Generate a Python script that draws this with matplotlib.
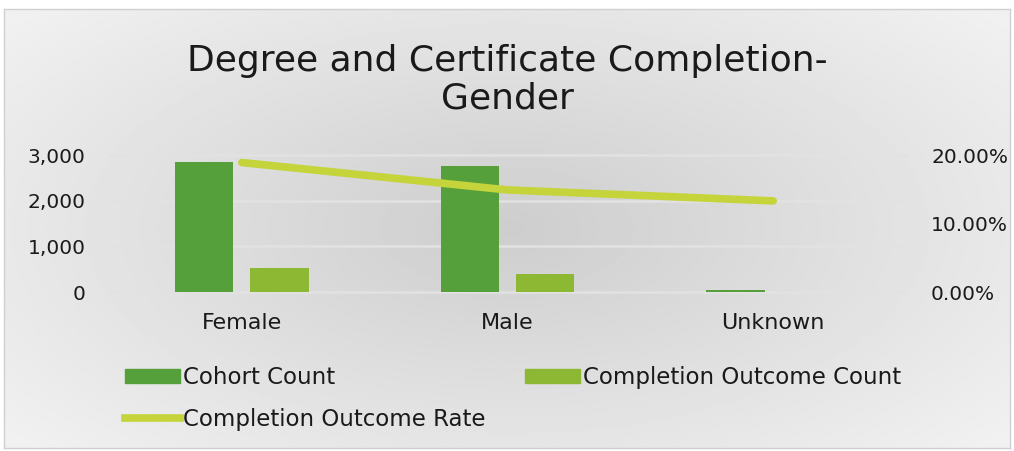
import numpy as np
import matplotlib
matplotlib.use("Agg")
import matplotlib.pyplot as plt
from matplotlib.patches import Patch
from matplotlib.lines import Line2D
from matplotlib.ticker import FuncFormatter

categories = ["Female", "Male", "Unknown"]
cohort_count = [2840, 2760, 40]
completion_count = [530, 395, 6]
completion_rate = [0.189, 0.149, 0.133]

plt.rcParams['font.family'] = ['DejaVu Sans']

W, H = 1014, 451
fig = plt.figure(figsize=(W / 100, H / 100), dpi=100, facecolor='white')

# background gradient inside chart frame
x0, y0, x1, y1 = 4 / W, 3 / H, 1010 / W, 442 / H
bg = fig.add_axes([x0, y0, x1 - x0, y1 - y0], zorder=-10)
yy, xx = np.mgrid[-1:1:200j, -1:1:400j]
r = np.sqrt((xx * 0.95) ** 2 + (yy * 0.85) ** 2)
shade = 0.805 + 0.14 * np.clip(r, 0, 1.25) / 1.25
bg.imshow(shade, cmap='gray', vmin=0, vmax=1, aspect='auto', extent=[0, 1, 0, 1])
bg.set_xlim(0, 1); bg.set_ylim(0, 1)
bg.set_xticks([]); bg.set_yticks([])
for s in bg.spines.values():
    s.set_color('#d0d0d0'); s.set_linewidth(1.0)

ax = fig.add_axes([0.1075, 0.3525, 0.786, 0.3038])
ax.patch.set_alpha(0)
x = np.arange(len(categories))
w = 0.22
off = 0.142
c1 = '#55a03a'
c2 = '#8cb834'
c3 = '#c4d43a'
ax.bar(x - off, cohort_count, w, color=c1, zorder=3)
ax.bar(x + off, completion_count, w, color=c2, zorder=3)
ax.set_xlim(-0.5, 2.5)
ax.set_ylim(0, 3000)
ax.set_yticks([0, 1000, 2000, 3000])
ax.yaxis.set_major_formatter(FuncFormatter(lambda v, p: f"{int(v):,}"))
ax.set_xticks(x)
ax.set_xticklabels(categories)
for s in ax.spines.values():
    s.set_visible(False)
ax.tick_params(axis='y', length=0, labelsize=14.5, colors='#1a1a1a', pad=17)
ax.tick_params(axis='x', length=0, labelsize=16, colors='#1a1a1a', pad=15)
ax.grid(axis='y', color='#e2e2e2', lw=1.8, zorder=0)
for gl in ax.get_ygridlines():
    gl.set_clip_on(False)

ax2 = ax.twinx()
ax2.set_ylim(0, 0.20)
ax2.set_yticks([0, 0.10, 0.20])
ax2.yaxis.set_major_formatter(FuncFormatter(lambda v, p: f"{v*100:.2f}%"))
for s in ax2.spines.values():
    s.set_visible(False)
ax2.tick_params(axis='y', length=0, labelsize=14.5, colors='#1a1a1a', pad=18)
ax2.plot(x, completion_rate, color=c3, lw=5.5, solid_capstyle='round', zorder=4, clip_on=False)

fig.text(0.5, 0.823, "Degree and Certificate Completion-\nGender", ha='center', va='center',
         fontsize=26, color='#1a1a1a', linespacing=1.1)

lkw = dict(frameon=False, fontsize=16.5, handlelength=2.4, handleheight=0.55,
           handletextpad=0.13, labelspacing=0.8, borderaxespad=0, borderpad=0)
leg1 = fig.legend(handles=[Patch(color=c1, label='Cohort Count'),
                           Line2D([0], [0], color=c3, lw=5.5, label='Completion Outcome Rate')],
                  loc='upper left', bbox_to_anchor=(125 / W, 0.188), **lkw)
leg2 = fig.legend(handles=[Patch(color=c2, label='Completion Outcome Count')],
                  loc='upper left', bbox_to_anchor=(525 / W, 0.188), **lkw)
for lg in (leg1, leg2):
    for t in lg.get_texts():
        t.set_color('#1a1a1a')

fig.savefig("out.png", dpi=100, facecolor='white')
